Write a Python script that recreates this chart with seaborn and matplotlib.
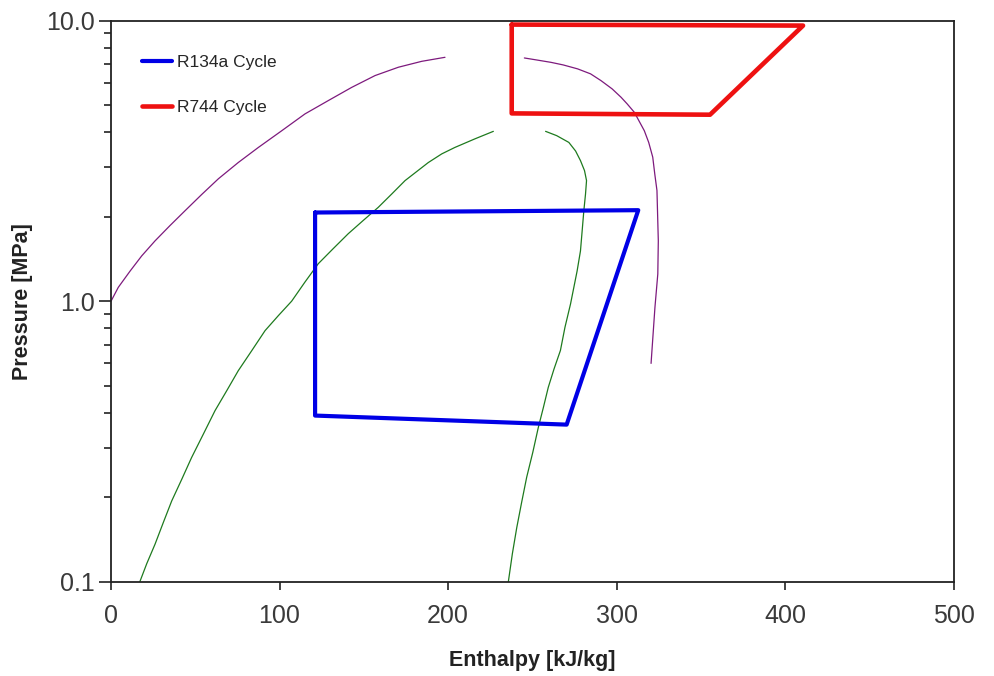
import numpy as np
import pandas as pd
import matplotlib
matplotlib.use("Agg")
import matplotlib.pyplot as plt
from matplotlib.ticker import LogLocator, FixedLocator, FixedFormatter, NullFormatter
import seaborn as sns

# R134a refrigeration cycle (enthalpy kJ/kg, pressure MPa)
r134a_h = [121.1, 312.9, 270.4, 121.1, 121.1]
r134a_p = [2.07, 2.11, 0.363, 0.391, 2.07]

# R744 (CO2) transcritical cycle
r744_h = [237.8, 410.7, 355.5, 237.8, 237.8]
r744_p = [9.68, 9.60, 4.62, 4.67, 9.68]

# R744 saturation dome (purple)
co2_liq_h = [0.0, 4.3, 11.3, 18.2, 26.1, 35.0, 43.9, 53.8, 63.7, 75.5, 87.4, 101.3,
             115.1, 129.0, 142.8, 156.7, 170.5, 184.4, 198.2]
co2_liq_p = [1.00, 1.12, 1.28, 1.45, 1.64, 1.86, 2.10, 2.40, 2.73, 3.12, 3.53, 4.05,
             4.65, 5.19, 5.78, 6.37, 6.82, 7.16, 7.40]
co2_vap_h = [245.3, 252.6, 261.1, 268.4, 276.9, 284.6, 290.8, 297.4, 302.7, 306.3,
             310.6, 316.5, 319.1, 321.5, 322.7, 324.0, 324.8, 324.5, 322.8, 320.5]
co2_vap_p = [7.36, 7.24, 7.10, 6.95, 6.73, 6.46, 6.11, 5.71, 5.33, 5.05,
             4.71, 4.05, 3.68, 3.26, 2.84, 2.48, 1.64, 1.25, 0.95, 0.60]

# R134a saturation dome (green)
r134a_liq_h = [17.1, 21.2, 26.1, 31.1, 36.0, 42.0, 47.8, 54.8, 61.7, 68.7, 75.5, 83.5,
               91.4, 99.3, 107.2, 115.1, 123.0, 131.9, 140.8, 149.7, 158.6, 166.6,
               174.5, 188.3, 196.3, 204.0, 216.0, 226.9]
r134a_liq_p = [0.100, 0.116, 0.136, 0.163, 0.194, 0.232, 0.277, 0.336, 0.407, 0.480,
               0.565, 0.666, 0.785, 0.888, 1.00, 1.17, 1.36, 1.54, 1.74, 1.94, 2.16,
               2.41, 2.69, 3.12, 3.35, 3.53, 3.79, 4.03]
r134a_vap_h = [257.9, 264.5, 271.7, 275.7, 278.6, 281.0, 282.2, 281.6, 280.6, 279.6,
               278.6, 276.6, 272.7, 269.4, 266.7, 262.9, 259.5, 256.6, 253.6, 250.3,
               246.7, 243.7, 240.8, 238.2, 235.8]
r134a_vap_p = [4.03, 3.89, 3.68, 3.43, 3.17, 2.92, 2.69, 2.41, 2.10, 1.78,
               1.51, 1.28, 0.977, 0.807, 0.667, 0.573, 0.493, 0.418, 0.355, 0.289,
               0.236, 0.192, 0.156, 0.126, 0.100]

x_ticks = [0, 100, 200, 300, 400, 500]
y_ticks = [0.1, 1.0, 10.0]
y_tick_labels = ["0.1", "1.0", "10.0"]

sns.set_theme(style="white")
plt.rcParams["font.family"] = ["Liberation Sans", "DejaVu Sans"]

fig = plt.figure(figsize=(9.95, 6.76), dpi=100)
ax = fig.add_axes([0.1116, 0.1395, 0.8467, 0.830])

def curve(h, p, color, lw, label=None):
    df = pd.DataFrame({"h": h, "p": p})
    sns.lineplot(data=df, x="h", y="p", sort=False, estimator=None, ax=ax,
                 color=color, linewidth=lw, label=label, legend=False)

purple = "#7d1a7d"
green = "#1e7a1e"
curve(co2_liq_h, co2_liq_p, purple, 0.9)
curve(co2_vap_h, co2_vap_p, purple, 0.9)
curve(r134a_liq_h, r134a_liq_p, green, 0.9)
curve(r134a_vap_h, r134a_vap_p, green, 0.9)
curve(r134a_h, r134a_p, "#0000e6", 3.0, "R134a Cycle")
curve(r744_h, r744_p, "#ee1111", 3.3, "R744 Cycle")

ax.set_yscale("log")
ax.set_xlim(0, 500)
ax.set_ylim(0.1, 10.0)

ax.xaxis.set_major_locator(FixedLocator(x_ticks))
ax.yaxis.set_major_locator(FixedLocator(y_ticks))
ax.yaxis.set_major_formatter(FixedFormatter(y_tick_labels))
ax.yaxis.set_minor_locator(LogLocator(base=10, subs=np.arange(2, 10)))
ax.yaxis.set_minor_formatter(NullFormatter())

for s in ax.spines.values():
    s.set_color("#222222")
    s.set_linewidth(1.3)

ax.tick_params(axis="x", which="major", direction="out", length=6, width=1.2,
               color="#222222", labelsize=18, labelcolor="#3a3a3a", pad=10,
               bottom=True, top=False)
ax.tick_params(axis="y", which="major", direction="out", length=9, width=1.2,
               color="#222222", labelsize=18, labelcolor="#3a3a3a", pad=3,
               left=True, right=False)
ax.tick_params(axis="y", which="minor", direction="out", length=5, width=1.2,
               color="#222222", left=True, right=False)

ax.set_xlabel("Enthalpy [kJ/kg]", fontsize=15.5, fontweight="bold", color="#222222", labelpad=16)
ax.set_ylabel("Pressure [MPa]", fontsize=15.5, fontweight="bold", color="#222222", labelpad=9)

ax.legend(loc="upper left", bbox_to_anchor=(0.028, 0.952), frameon=False,
          fontsize=12.5, handlelength=1.75, handletextpad=0.3, labelspacing=1.75,
          borderaxespad=0)

fig.savefig("out.png", dpi=100, facecolor="white")
